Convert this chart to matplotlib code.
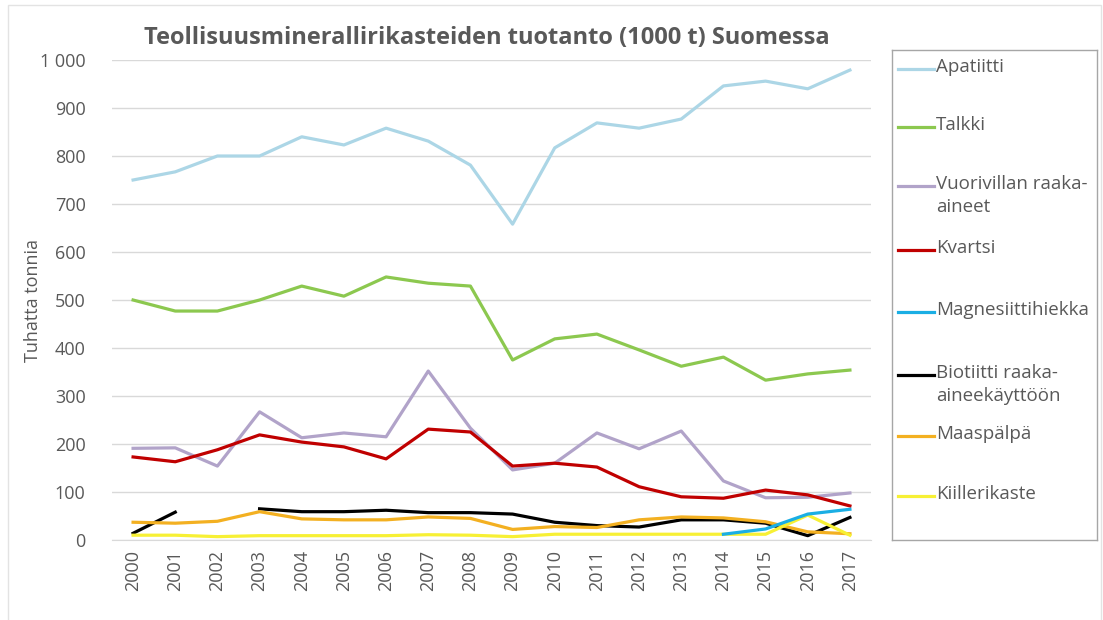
import matplotlib
matplotlib.use("Agg")
import matplotlib.pyplot as plt
from matplotlib.ticker import FuncFormatter, MultipleLocator
from matplotlib.patches import Rectangle
import numpy as np

years = [str(y) for y in range(2000, 2018)]

apatiitti = [750, 767, 800, 800, 840, 823, 858, 831, 781, 658, 817, 869, 858, 877, 946, 956, 940, 979]
talkki = [500, 477, 477, 500, 529, 508, 548, 535, 529, 375, 419, 429, 396, 362, 381, 333, 346, 354]
vuorivilla = [191, 192, 154, 267, 213, 223, 215, 352, 233, 146, 160, 223, 190, 227, 123, 88, 89, 98]
kvartsi = [173, 163, 188, 219, 204, 194, 169, 231, 225, 154, 160, 152, 111, 90, 87, 104, 94, 71]
magnesiitti = [None] * 14 + [12, 23, 54, 64]
biotiitti = [14, 58, None, 65, 59, 59, 62, 57, 57, 54, 37, 30, 27, 42, 42, 35, 9, 47]
maasalpa = [37, 35, 39, 59, 44, 42, 42, 48, 45, 22, 28, 26, 42, 48, 46, 38, 17, 13]
kiille = [10, 10, 7, 9, 9, 9, 9, 11, 10, 7, 12, 12, 12, 12, 12, 12, 52, 10]

series_names = ["Apatiitti", "Talkki", "Vuorivillan raaka-\naineet", "Kvartsi",
                "Magnesiittihiekka", "Biotiitti raaka-\naineekäyttöön", "Maaspälpä",
                "Kiillerikaste"]
series_values = [apatiitti, talkki, vuorivilla, kvartsi, magnesiitti, biotiitti, maasalpa, kiille]
colors = ["#acd6e6", "#8cc84f", "#b1a3c9", "#c00000", "#1aaee4", "#000000", "#f3b021", "#f7f034"]

plt.rcParams['font.family'] = ['Open Sans', 'DejaVu Sans']
txt = "#595959"

fig = plt.figure(figsize=(11.03, 6.2), dpi=100)
fig.patches.append(Rectangle((8 / 1103, -0.05), (1101 - 8) / 1103, 1.05 - 5 / 620,
                             transform=fig.transFigure, fill=False,
                             edgecolor="#e3e3e3", linewidth=1.0))

ax = fig.add_axes([112 / 1103, 1 - 540 / 620, 759 / 1103, 480 / 620])
x = np.arange(len(years))
draw_order = [0, 1, 2, 3, 5, 6, 7, 4]
for i in draw_order:
    vals = np.array([np.nan if v is None else v for v in series_values[i]], dtype=float)
    ax.plot(x, vals, color=colors[i], linewidth=2.3, solid_joinstyle="round")

ax.set_xlim(-0.5, len(years) - 0.5)
ax.set_ylim(0, 1000)
ax.yaxis.set_major_locator(MultipleLocator(100))
ax.yaxis.set_major_formatter(FuncFormatter(lambda v, p: f"{int(v):,}".replace(",", " ")))
ax.set_xticks(x)
ax.set_xticklabels(years, rotation=90)
ax.tick_params(axis="both", length=0, labelsize=13, colors=txt)
ax.tick_params(axis="x", pad=7)
ax.tick_params(axis="y", pad=19)
ax.grid(axis="y", color="#d9d9d9", linewidth=1)
ax.set_axisbelow(True)
for s in ["top", "right", "left"]:
    ax.spines[s].set_visible(False)
ax.spines["bottom"].set_color("#d9d9d9")
ax.set_ylabel("Tuhatta tonnia", fontsize=13, color=txt)
ax.yaxis.set_label_coords((33 - 112) / 759, 0.5)
ax.yaxis.label.set_va("center")

fig.text(487 / 1103, 1 - 38 / 620, "Teollisuusminerallirikasteiden tuotanto (1000 t) Suomessa",
         ha="center", va="center", fontsize=17, fontweight="bold", color=txt)

# legend box
lx0, ly0, lx1, ly1 = 892, 50, 1097, 540
lax = fig.add_axes([lx0 / 1103, 1 - ly1 / 620, (lx1 - lx0) / 1103, (ly1 - ly0) / 620])
lax.set_xlim(lx0, lx1)
lax.set_ylim(ly1, ly0)
lax.set_xticks([])
lax.set_yticks([])
for s in lax.spines.values():
    s.set_color("#a6a6a6")
    s.set_linewidth(1)
handle_y = [69, 127, 186, 250, 312, 375, 436, 496]
for name, c, hy in zip(series_names, colors, handle_y):
    lax.plot([898, 934], [hy, hy], color=c, linewidth=2.3)
    lax.text(936, hy - 11, name, ha="left", va="top", fontsize=13.5, color=txt,
             linespacing=1.35)

fig.savefig("out.png", dpi=100)
